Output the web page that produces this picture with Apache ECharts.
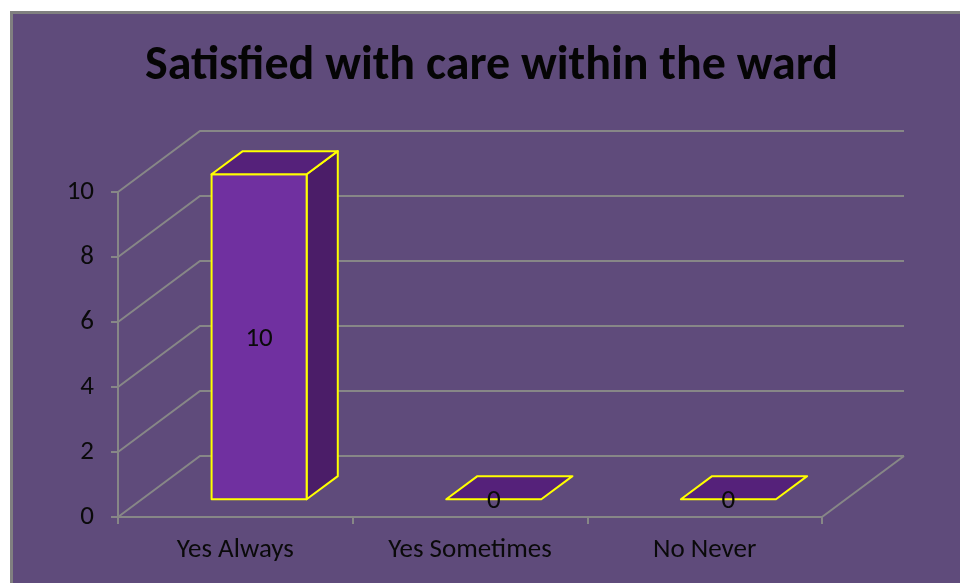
<!DOCTYPE html>
<html>
<head>
<meta charset="utf-8">
<script src="https://cdn.jsdelivr.net/npm/echarts@6/dist/echarts.min.js"></script>
<style>html,body{margin:0;padding:0;background:#fff;}#c{width:960px;height:583px;}</style>
</head>
<body>
<div id="c"></div>
<script>
var titleText = 'Satisfied with care within the ward';
var categories = ['Yes Always', 'Yes Sometimes', 'No Never'];
var values = [10, 0, 0];
var yTicks = [0, 2, 4, 6, 8, 10];

var DX = 82, DY = -61;          // depth of the 3D box
var F1 = 0.29, F2 = 0.67;       // bar front/back depth fractions
var BAR_W = 0.405;              // bar width as fraction of band
var FONT = 'Carlito, "Liberation Sans", Arial, sans-serif';

var chart = echarts.init(document.getElementById('c'), null, {renderer: 'canvas'});

function gridRender(params, api) {
  var cs = params.coordSys;
  var v = api.value(1);
  var y = api.coord([0, v])[1];
  var left = cs.x, right = cs.x + cs.width;
  var children = [{
    type: 'polyline',
    shape: {points: [[left, y], [left + DX, y + DY], [right + DX, y + DY]]},
    style: {stroke: '#878787', lineWidth: 2, fill: null}
  }];
  if (v === 0) {
    children.push({
      type: 'line',
      shape: {x1: right, y1: y, x2: right + DX, y2: y + DY},
      style: {stroke: '#878787', lineWidth: 2}
    });
  }
  return {type: 'group', children: children};
}

function barRender(params, api) {
  var idx = api.value(0), val = api.value(1);
  var base = api.coord([idx, 0]);
  var top = api.coord([idx, val]);
  var bw = api.size([1, 0])[0] * BAR_W;
  var o1x = DX * F1, o1y = DY * F1;
  var ddx = DX * (F2 - F1), ddy = DY * (F2 - F1);
  var x0 = base[0] - bw / 2 + o1x, x1 = x0 + bw;
  var yb = base[1] + o1y, yt = top[1] + o1y;
  var border = {stroke: '#ffff00', lineWidth: 2, lineJoin: 'round'};
  var children = [];
  if (yb - yt > 0.5) {
    children.push({
      type: 'polygon',
      shape: {points: [[x1, yt], [x1 + ddx, yt + ddy], [x1 + ddx, yb + ddy], [x1, yb]]},
      style: Object.assign({fill: '#4b1d68'}, border)
    });
    children.push({
      type: 'rect',
      shape: {x: x0, y: yt, width: bw, height: yb - yt},
      style: Object.assign({fill: '#7030a0'}, border)
    });
  }
  children.push({
    type: 'polygon',
    shape: {points: [[x0, yt], [x1, yt], [x1 + ddx, yt + ddy], [x0 + ddx, yt + ddy]]},
    style: Object.assign({fill: '#55217a'}, border)
  });
  children.push({
    type: 'text',
    style: {
      x: (x0 + x1) / 2, y: (yt + yb) / 2 + 2,
      text: String(val), textAlign: 'center', textVerticalAlign: 'middle',
      fill: '#0a0a0a', font: '27px ' + FONT
    }
  });
  return {type: 'group', children: children};
}

var option = {
  backgroundColor: '#ffffff',
  animation: false,
  graphic: [
    {type: 'rect', shape: {x: 10, y: 11, width: 960, height: 600}, style: {fill: '#808080'}, z: -10},
    {type: 'rect', shape: {x: 13, y: 14, width: 960, height: 600}, style: {fill: '#5f4b7b'}, z: -9}
  ],
  title: {
    text: titleText,
    left: 140,
    top: 38,
    textStyle: {fontFamily: FONT, fontWeight: 'bold', fontSize: 48, color: '#050505'}
  },
  grid: {left: 118, right: 138, top: 192, bottom: 66},
  xAxis: {
    type: 'category',
    data: categories,
    axisLine: {lineStyle: {color: '#878787', width: 2}},
    axisTick: {show: true, length: 7, lineStyle: {color: '#878787', width: 2}},
    axisLabel: {color: '#0a0a0a', fontSize: 27, fontFamily: FONT, margin: 20},
    splitLine: {show: false}
  },
  yAxis: {
    type: 'value',
    min: 0, max: 10, interval: 2,
    axisLine: {show: true, lineStyle: {color: '#878787', width: 2}},
    axisTick: {show: true, length: 7, lineStyle: {color: '#878787', width: 2}},
    axisLabel: {color: '#0a0a0a', fontSize: 27, fontFamily: FONT, margin: 24},
    splitLine: {show: false}
  },
  series: [
    {
      type: 'custom',
      renderItem: gridRender,
      data: yTicks.map(function (t) { return [0, t]; }),
      clip: false, silent: true, z: 1
    },
    {
      type: 'custom',
      renderItem: barRender,
      data: values.map(function (v, i) { return [i, v]; }),
      clip: false, z: 3
    }
  ]
};
chart.setOption(option);
</script>
</body>
</html>
